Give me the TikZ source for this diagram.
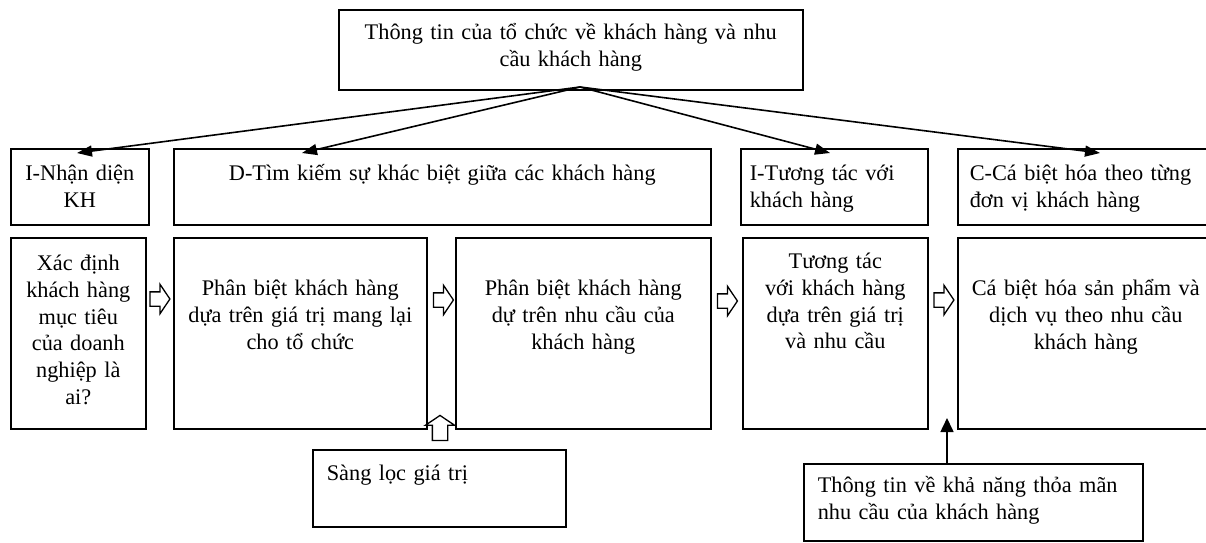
\documentclass[tikz,border=0pt]{standalone}
\usepackage{fontspec}
\setmainfont{Liberation Serif}
\usetikzlibrary{arrows.meta,shapes.arrows}

\begin{document}
\begin{tikzpicture}[x=1pt,y=-1pt,
        font=\fontsize{22.3}{26.7}\selectfont,
        box/.style={draw, line width=1.6pt, anchor=north west, inner sep=0pt, align=center},
        lbox/.style={box, align=left, inner xsep=10pt},
        harrow/.style={single arrow, draw, line width=1.3pt, inner xsep=0pt, inner ysep=6.5pt,
            single arrow head extend=7.5pt, single arrow tip angle=112,
            minimum height=20pt, minimum width=0pt},
        link/.style={line width=1.6pt, -{Triangle[length=15pt,width=11pt]}}]
    \useasboundingbox (0,0) rectangle (1206,542);

    \node[box, text width=464pt, text height=30pt, text depth=50pt] (info) at (338,9)
        {Thông tin của tổ chức về khách hàng và nhu\\cầu khách hàng};

    % IDIC
    \node[box, text width=138pt, text height=32pt, text depth=44pt] (h1) at (10,148) {I-Nhận diện\\KH};
    \node[box, text width=537pt, text height=32pt, text depth=44pt] (h2) at (173,148)
        {D-Tìm kiếm sự khác biệt giữa các khách hàng};
    \node[lbox, inner xsep=9pt, text width=169pt, text height=32pt, text depth=44pt] (h3) at (740,148)
        {I-Tương tác với\\khách hàng};
    \node[lbox, inner xsep=12pt, text width=232pt, text height=32pt, text depth=44pt] (h4) at (957,148)
        {C-Cá biệt hóa theo từng\\đơn vị khách hàng};

    \node[box, text width=135pt, text height=33pt, text depth=158pt] (s1) at (10,237)
        {Xác định\\khách hàng\\mục tiêu\\của doanh\\nghiệp là\\ai?};
    \node[box, text width=253pt, text height=58pt, text depth=133pt] (s2) at (173,237)
        {Phân biệt khách hàng\\dựa trên giá trị mang lại\\cho tổ chức};
    \node[box, text width=255pt, text height=58pt, text depth=133pt] (s3) at (455,237)
        {Phân biệt khách hàng\\dự trên nhu cầu của\\khách hàng};
    \node[box, text width=185pt, text height=31pt, text depth=160pt] (s4) at (742,237)
        {Tương tác\\với khách hàng\\dựa trên giá trị\\và nhu cầu};
    \node[box, text width=256pt, text height=58pt, text depth=133pt] (s5) at (957,237)
        {Cá biệt hóa sản phẩm và\\dịch vụ theo nhu cầu\\khách hàng};

    \node[lbox, inner xsep=14pt, text width=225pt, text height=31pt, text depth=46pt] (filter) at (312,449)
        {Sàng lọc giá trị};
    \node[lbox, inner xsep=14pt, text width=311pt, text height=29pt, text depth=48pt] (need) at (803,463)
        {Thông tin về khả năng thỏa mãn\\nhu cầu của khách hàng};

    \coordinate (from) at (580,87);
    \foreach \n/\x in {1/77, 2/302, 3/830, 4/1100}
        \coordinate (t\n) at (\x,153);
    \foreach \n in {1,...,4}
        \draw[link] (from) -- (t\n);

    \node[harrow] (a12) at (157.5,299) {};
    \node[harrow] (a23) at (441,300) {};
    \node[harrow] (a34) at (725,301) {};
    \node[harrow] (a45) at (941.5,300) {};
    \node[harrow, rotate=90, minimum height=25pt, inner ysep=7pt, single arrow head extend=7pt] (aup) at (440,430.5) {};

    \coordinate (tip) at (947,418);
    \draw[line width=1.6pt, -{Triangle[length=14pt,width=13pt]}] (tip |- need.north) -- (tip);
\end{tikzpicture}
\end{document}
